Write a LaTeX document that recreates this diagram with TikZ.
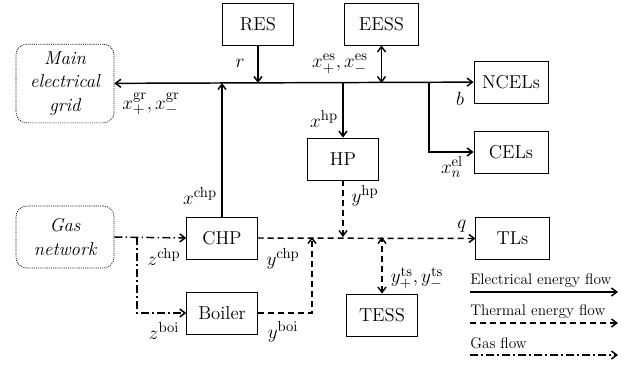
\documentclass[tikz,border=0pt]{standalone}
\usepackage{tikz}
\usetikzlibrary{arrows.meta, positioning, calc}

\tikzset{
  unit/.style={rectangle, draw=black, line width=0.6pt, minimum width=53pt, minimum height=31.5pt, inner sep=0pt, font=\fontsize{14}{16}\selectfont},
  outside/.style={rectangle, draw=black, line width=0.5pt, dash pattern=on 0.8pt off 0.8pt, rounded corners=8pt, minimum width=73.5pt, align=center, inner sep=0pt, font=\fontsize{14}{17.5}\selectfont\itshape},
  lbl/.style={inner sep=0pt, font=\fontsize{15}{17}\selectfont},
  elec/.style={line width=1.1pt},
  therm/.style={line width=1.1pt, dash pattern=on 4.5pt off 3pt},
  gasline/.style={line width=1.1pt, dash pattern=on 6pt off 2.5pt on 1pt off 2.5pt},
  >={Straight Barb[length=4pt, width=6pt]}
}

\begin{document}
\begin{tikzpicture}[x=0.75pt, y=-0.75pt]
\useasboundingbox (0,0) rectangle (640,365);

% electrical side
\node[unit] (res) at (258,24) {RES};
\node[unit, minimum width=55pt] (eess) at (381.5,24) {EESS};
\node[outside, minimum height=59pt] (grid) at (65,83.5) {Main\\electrical\\grid};
\node[unit, minimum width=55.5pt] (ncels) at (511,82) {NCELs};
\node[unit, minimum width=55.5pt] (cels) at (511,152) {CELs};
\node[unit] (hp) at (343,159) {HP};

% gas and thermal side
\node[outside, minimum height=46.5pt] (gas) at (65,237) {Gas\\network};
\node[unit] (chp) at (222,238) {CHP};
\node[unit] (boiler) at (222,313) {Boiler};
\node[unit, minimum width=55pt] (tls) at (512.5,238.5) {TLs};
\node[unit] (tess) at (382,315) {TESS};

\coordinate (bus) at (0,83);
\coordinate (celtap) at (429,83);
\coordinate (heat) at (0,237);
\coordinate (mix) at (312,237);
\coordinate (gastap) at (137,237);

\draw[elec, <->] (grid) -- (ncels);
\draw[elec, ->] (res.south) -- (res.south |- bus);
\draw[elec, <->] (eess.south) -- (eess.south |- bus);
\draw[elec, ->] (chp.north) -- (chp.north |- bus);
\draw[elec, ->] (hp.north |- bus) -- (hp.north);
\draw[elec, ->] (celtap) |- (cels.west);

\draw[therm, ->] (chp.east) -- (tls.west);
\draw[therm, ->] (boiler.east) -| (mix);
\draw[therm, ->] (hp.south) -- (hp.south |- heat);
\draw[therm, <->] (tess.north) -- (tess.north |- heat);

\draw[gasline, ->] (gas.east) -- (chp.west);
\draw[gasline, ->] (gastap) |- (boiler.west);

% labels
\node[lbl] (r) at (240,63) {$r$};
\node[lbl] (xgr) at (151,104) {$x^{\mathrm{gr}}_{+}, x^{\mathrm{gr}}_{-}$};
\node[lbl] (xes) at (340,64) {$x^{\mathrm{es}}_{+}, x^{\mathrm{es}}_{-}$};
\node[lbl] (xhp) at (324,119) {$x^{\mathrm{hp}}$};
\node[lbl] (b) at (460,99) {$b$};
\node[lbl] (xel) at (452,167) {$x^{\mathrm{el}}_{n}$};
\node[lbl] (xchp) at (200,196) {$x^{\mathrm{chp}}$};
\node[lbl] (zchp) at (164,257) {$z^{\mathrm{chp}}$};
\node[lbl] (ychp) at (283,259) {$y^{\mathrm{chp}}$};
\node[lbl] (zboi) at (164,331) {$z^{\mathrm{boi}}$};
\node[lbl] (yboi) at (283,332) {$y^{\mathrm{boi}}$};
\node[lbl] (yhp) at (365,196) {$y^{\mathrm{hp}}$};
\node[lbl] (q) at (462,226) {$q$};
\node[lbl] (yts) at (417,278) {$y^{\mathrm{ts}}_{+}, y^{\mathrm{ts}}_{-}$};

% legend
\node[lbl, anchor=west, font=\fontsize{11.5}{14}\selectfont] (legel) at (470,281) {Electrical energy flow};
\node[lbl, anchor=west, font=\fontsize{11.5}{14}\selectfont] (legth) at (470,312) {Thermal energy flow};
\node[lbl, anchor=west, font=\fontsize{11.5}{14}\selectfont] (leggas) at (470,343) {Gas flow};
\coordinate (legend end) at (618,0);
\draw[elec, ->] (470,292) -- (470,292 -| legend end);
\draw[therm, ->] (470,323) -- (470,323 -| legend end);
\draw[gasline, ->] (470,355) -- (470,355 -| legend end);
\end{tikzpicture}
\end{document}
